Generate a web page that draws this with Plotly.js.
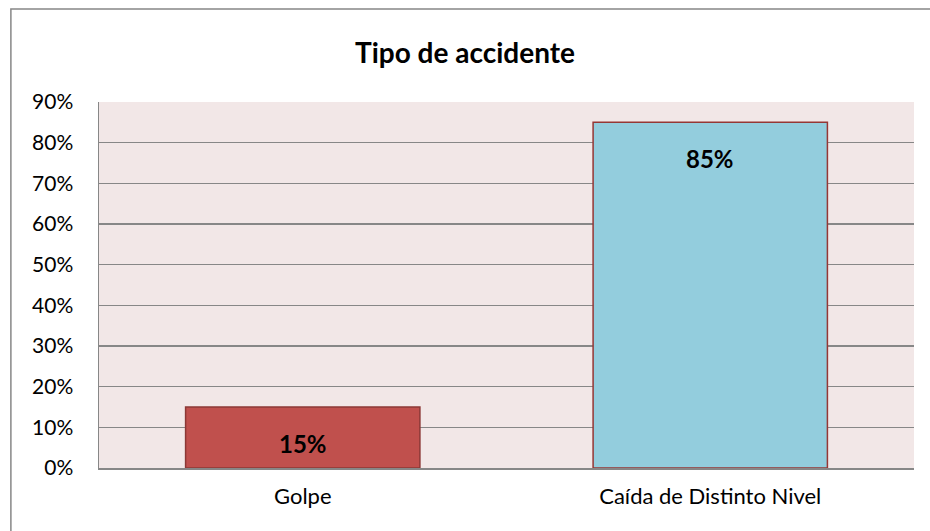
<!DOCTYPE html>
<html><head><meta charset="utf-8">
<script src="https://cdn.plot.ly/plotly-3.0.1.min.js"></script>
<style>html,body{margin:0;padding:0;background:#fff}#chart{width:930px;height:531px}</style>
</head><body><div id="chart"></div>
<script>
const categories = ["Golpe", "Caída de Distinto Nivel"];
const values = [0.15, 0.85];
const labels = ["15%", "85%"];
const barColors = ["#C0504D", "#93CDDD"];
const barLineColors = ["#8C3836", "#953735"];
const yTickVals = [0, 0.1, 0.2, 0.3, 0.4, 0.5, 0.6, 0.7, 0.8, 0.9];
const yTickText = ["0%", "10%", "20%", "30%", "40%", "50%", "60%", "70%", "80%", "90%"];

const font = "Lato, 'Open Sans', 'Liberation Sans', sans-serif";

const trace = {
  type: "bar",
  x: categories,
  y: values,
  marker: { color: barColors, line: { color: barLineColors, width: 1.5 } },
  hoverinfo: "none"
};

const annotations = categories.map((c, i) => ({
  x: c, y: values[i], xref: "x", yref: "y",
  text: "<b>" + labels[i] + "</b>",
  showarrow: false, yanchor: "middle", yshift: -36,
  font: { family: font, size: 24, color: "#000" }
}));

const layout = {
  width: 930, height: 531,
  margin: { l: 99, r: 16, t: 102, b: 63 },
  paper_bgcolor: "#ffffff",
  plot_bgcolor: "#F2E7E7",
  showlegend: false,
  bargap: 0.425,
  title: { text: "<b>Tipo de accidente</b>", x: 0.5, xref: "container", y: 1 - 53/531, yref: "container", yanchor: "middle",
           font: { family: font, size: 28, color: "#000" } },
  xaxis: {
    type: "category", showgrid: false, zeroline: false,
    showline: true, linecolor: "#878787", linewidth: 1.5,
    ticks: "", tickfont: { family: font, size: 22, color: "#000" }, ticklabelstandoff: 8
  },
  yaxis: {
    range: [0, 0.9], tickvals: yTickVals, ticktext: yTickText,
    showgrid: true, gridcolor: "#878787", gridwidth: 1.5,
    zeroline: false, showline: true, linecolor: "#878787", linewidth: 1.5,
    ticks: "", tickfont: { family: font, size: 21, color: "#000" }, ticklabelstandoff: 20
  },
  annotations: annotations,
  shapes: [{
    type: "rect", xref: "paper", yref: "paper",
    x0: (11 - 99) / 814, x1: 1 + 40 / 814,
    y0: -100 / 366, y1: 1 + (102 - 9) / 366,
    line: { color: "#878787", width: 1.5 }, fillcolor: "rgba(0,0,0,0)", layer: "below"
  }]
};

Plotly.newPlot("chart", [trace], layout, { displayModeBar: false, staticPlot: true });
</script></body></html>
